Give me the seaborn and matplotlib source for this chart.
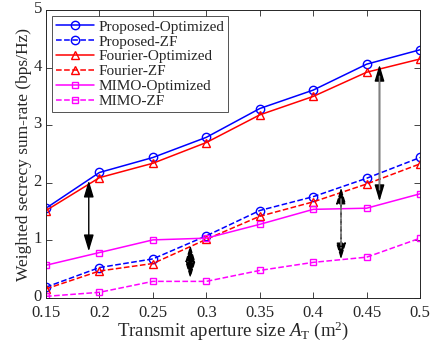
import numpy as np
import pandas as pd
import matplotlib
matplotlib.use("Agg")
import matplotlib.pyplot as plt
import matplotlib.transforms as mtransforms
import seaborn as sns

aperture = [0.15, 0.20, 0.25, 0.30, 0.35, 0.40, 0.45, 0.50]
proposed_opt = [1.56, 2.18, 2.44, 2.79, 3.29, 3.61, 4.06, 4.31]
proposed_zf = [0.19, 0.53, 0.68, 1.08, 1.52, 1.76, 2.08, 2.44]
fourier_opt = [1.52, 2.09, 2.34, 2.70, 3.18, 3.50, 3.92, 4.15]
fourier_zf = [0.16, 0.47, 0.60, 1.02, 1.42, 1.67, 1.98, 2.33]
mimo_opt = [0.57, 0.79, 1.01, 1.04, 1.28, 1.54, 1.56, 1.81]
mimo_zf = [0.03, 0.10, 0.29, 0.29, 0.48, 0.62, 0.71, 1.04]

series_names = ["Proposed-Optimized", "Proposed-ZF", "Fourier-Optimized",
                "Fourier-ZF", "MIMO-Optimized", "MIMO-ZF"]
series_vals = [proposed_opt, proposed_zf, fourier_opt, fourier_zf, mimo_opt, mimo_zf]
colors = ["#0000FF", "#0000FF", "#FF0000", "#FF0000", "#FF00FF", "#FF00FF"]
markers = ["o", "o", "^", "^", "s", "s"]
dashes = ["-", "--", "-", "--", "-", "--"]

# annotation arrows
arrow_x = [0.19, 0.285, 0.426, 0.462]
arrow_top = [2.04, 0.92, 1.92, 4.05]
arrow_bot = [0.81, 0.34, 0.67, 1.68]

sns.set_style("ticks")
plt.rcParams["font.family"] = ["Liberation Serif", "DejaVu Serif"]
plt.rcParams["mathtext.fontset"] = "custom"
plt.rcParams["mathtext.rm"] = "Liberation Serif"
plt.rcParams["mathtext.it"] = "Liberation Serif:italic"

fig = plt.figure(figsize=(4.3, 3.45), dpi=100)
ax = fig.add_axes([0.107, 0.136, 0.870, 0.835])

for name, vals, c, m, ls in zip(series_names, series_vals, colors, markers, dashes):
    df = pd.DataFrame({"x": aperture, "y": vals})
    sns.lineplot(data=df, x="x", y="y", ax=ax, color=c, marker=m, linestyle=ls,
                 markersize=6 if m != "s" else 5, markerfacecolor="none",
                 markeredgecolor=c, markeredgewidth=1.0, linewidth=1.1, label=name)

arrow_styles = [("-", "black"), ("--", "black"), ("--", "#808080"), ("-", "#808080")]
for x, yt, yb, (ls, c) in zip(arrow_x, arrow_top, arrow_bot, arrow_styles):
    ax.annotate("", xy=(x, yb), xytext=(x, yt),
                arrowprops=dict(arrowstyle="<|-|>,head_length=1.0,head_width=0.3",
                                color="black", lw=1.0, linestyle=ls,
                                shrinkA=0, shrinkB=0))
    if c != "black":
        ax.annotate("", xy=(x, yb + 0.2), xytext=(x, yt - 0.2),
                    arrowprops=dict(arrowstyle="-", color=c, lw=1.1, linestyle=ls,
                                    shrinkA=0, shrinkB=0))

ax.set_xlim(0.15, 0.5)
ax.set_ylim(0, 5)
ax.set_xticks(aperture)
ax.set_xticklabels(["0.15", "0.2", "0.25", "0.3", "0.35", "0.4", "0.45", "0.5"])
ax.set_yticks([0, 1, 2, 3, 4, 5])
ax.tick_params(direction="in", top=True, right=True, labelsize=12, length=4,
               width=0.6, colors="#262626")
ax.tick_params(axis="x", pad=5)
ax.tick_params(axis="y", pad=3)
# nudge y tick labels up slightly, as in the reference
offset = mtransforms.ScaledTranslation(0, 3 / 100, fig.dpi_scale_trans)
for lab in ax.get_yticklabels():
    lab.set_transform(lab.get_transform() + offset)
for s in ax.spines.values():
    s.set_linewidth(0.7)
    s.set_color("#262626")
    s.set_visible(True)
ax.set_xlabel(r"Transmit aperture size $A_{\rm T}$ (m$^2$)", fontsize=13.5, labelpad=-1)
ax.set_ylabel("Weighted secrecy sum-rate (bps/Hz)", fontsize=12.5, labelpad=1)

leg = ax.legend(loc="upper left", fontsize=11, frameon=True, fancybox=False,
                edgecolor="#262626", borderpad=0.25, labelspacing=0.08,
                handlelength=2.5, handletextpad=0.3, borderaxespad=0.4)
leg.get_frame().set_linewidth(0.7)

fig.savefig("out.png", dpi=100)
